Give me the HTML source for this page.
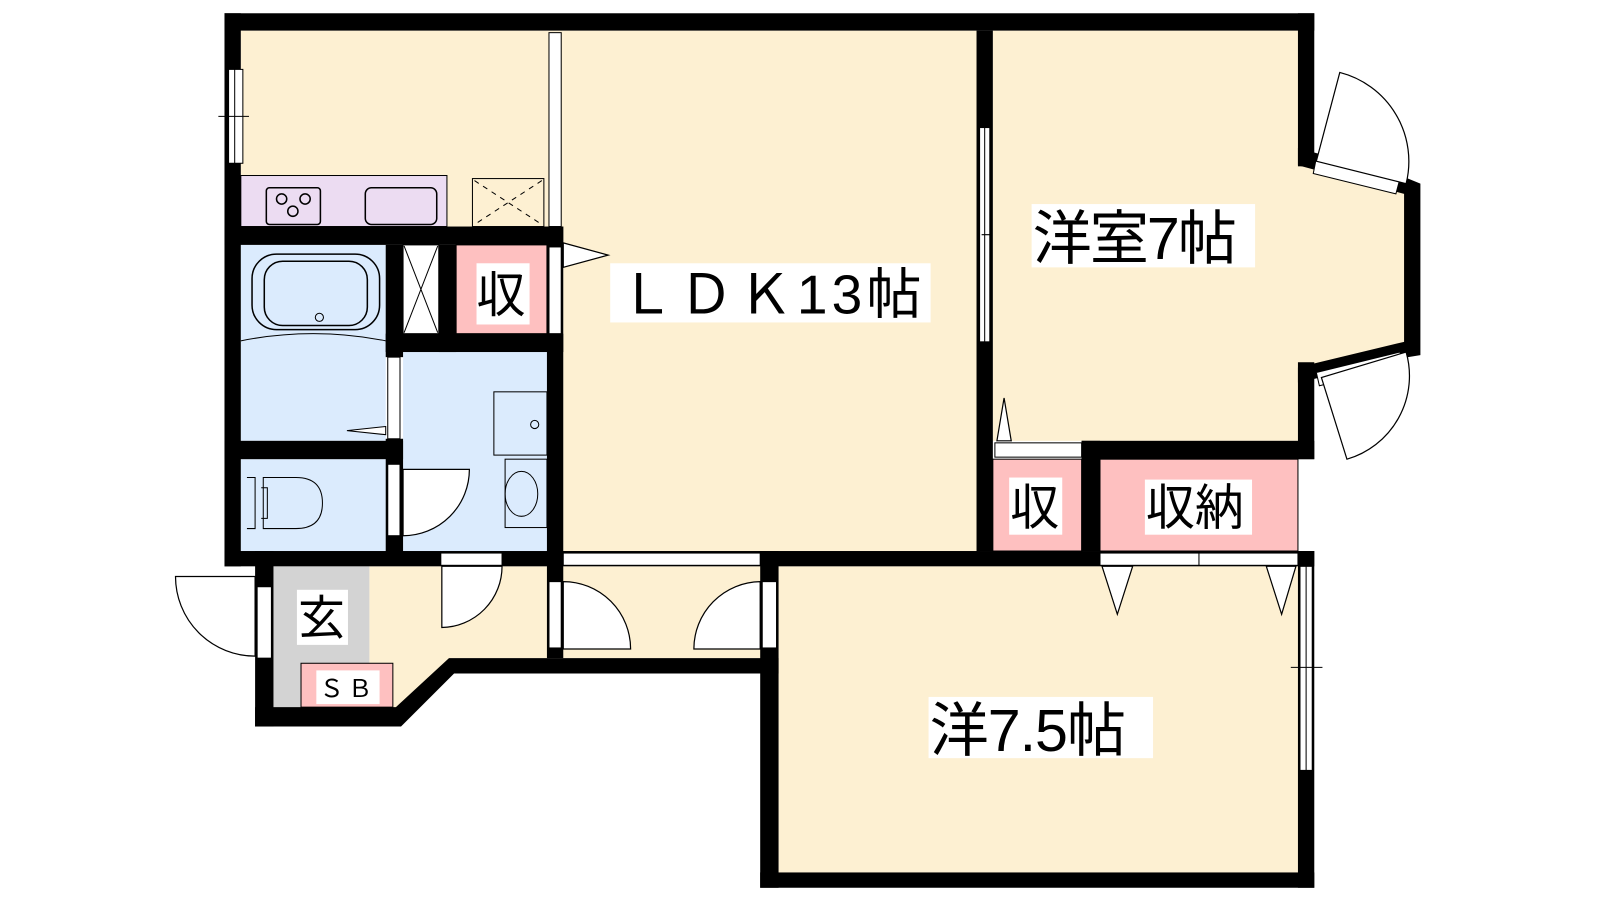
<!DOCTYPE html>
<html><head><meta charset="utf-8"><style>
html,body{margin:0;padding:0;background:#fff;width:1600px;height:900px;overflow:hidden}
svg{display:block}
text{font-family:"Liberation Sans","Noto Sans CJK JP",sans-serif;fill:#000}
</style></head><body>
<svg width="1600" height="900" viewBox="0 0 1600 900">
<g transform="scale(1.0204)">
<!-- floors -->
<g fill="#fdf0d2">
<rect x="236" y="30" width="316" height="192"/>
<rect x="552" y="30" width="405" height="510"/>
<polygon points="973,30 1272,30 1272,160 1380,185 1380,345 1272,365 1272,432 973,432"/>
<rect x="763" y="555" width="509" height="300"/>
<polygon points="362,555 748,555 748,645 440,645 388,700 362,700"/>
</g>
<g fill="#dbebfd">
<rect x="236" y="240" width="142" height="192"/>
<rect x="395" y="345" width="141" height="195"/>
<rect x="236" y="450" width="142" height="90"/>
</g>
<rect x="268" y="555" width="94" height="138" fill="#d3d3d3"/>
<g fill="#fec0c0" stroke="#000" stroke-width="1">
<rect x="447" y="240" width="89" height="87"/>
<rect x="973" y="450" width="87" height="90"/>
<rect x="1078" y="450" width="194" height="90"/>
<rect x="295" y="650" width="90" height="43"/>
</g>
<!-- kitchen -->
<rect x="236" y="172" width="202" height="50" fill="#ecdcf2" stroke="#000"/>
<rect x="261" y="184" width="53" height="36" rx="3" fill="none" stroke="#000" stroke-width="1.5"/>
<g fill="none" stroke="#000" stroke-width="1.5"><circle cx="276" cy="195" r="5"/><circle cx="299" cy="195" r="5"/><circle cx="287" cy="207" r="5"/></g>
<rect x="358" y="184" width="70" height="36" rx="6" fill="none" stroke="#000" stroke-width="1.5"/>
<rect x="463" y="175" width="70" height="47" fill="none" stroke="#000"/>
<path d="M465,177 L531,220 M531,177 L465,220" stroke="#000" stroke-dasharray="5,5"/>
<!-- bath -->
<rect x="247" y="249" width="125" height="74" rx="24" fill="none" stroke="#000" stroke-width="1.5"/>
<rect x="259" y="256" width="101" height="63" rx="18" fill="none" stroke="#000" stroke-width="1.5"/>
<circle cx="313" cy="311" r="4" fill="none" stroke="#000"/>
<path d="M236,334 Q307,320 378,334" fill="none" stroke="#000"/>
<polygon points="378,418 340,422 378,426" fill="#fff" stroke="#000"/>
<!-- closet X -->
<rect x="395" y="240" width="35" height="87" fill="#fff" stroke="#000"/>
<path d="M396,241 L429,326 M429,241 L396,326" stroke="#000"/>
<!-- washroom -->
<rect x="484" y="384" width="52" height="62" fill="none" stroke="#000"/>
<circle cx="524" cy="416" r="4" fill="none" stroke="#000"/>
<rect x="495" y="450" width="41" height="67" fill="none" stroke="#000"/>
<ellipse cx="511" cy="484" rx="16" ry="22" fill="none" stroke="#000"/>
<!-- toilet -->
<path d="M258,468 L290,468 Q316,468 316,493 Q316,518 290,518 L258,518 Z" fill="none" stroke="#000"/>
<path d="M242,468 L250,468 L250,518 L242,518 M250,468 L250,518 M256,478 L262,478 L262,508 L256,508" fill="none" stroke="#000"/>
<!-- walls -->
<g fill="#000">
<rect x="220" y="13" width="1068" height="17"/>
<rect x="220" y="13" width="16" height="542"/>
<rect x="220" y="222" width="332" height="18"/>
<rect x="378" y="240" width="17" height="110"/>
<rect x="378" y="430" width="17" height="120"/>
<rect x="430" y="240" width="17" height="105"/>
<rect x="378" y="327" width="174" height="18"/>
<rect x="220" y="432" width="175" height="18"/>
<rect x="536" y="222" width="16" height="423"/>
<rect x="220" y="540" width="1068" height="15"/>
<rect x="250" y="540" width="18" height="172"/>
<polygon points="250,693 388,693 440,645 763,645 763,660 445,660 393,712 250,712"/>
<rect x="745" y="540" width="18" height="330"/>
<rect x="745" y="855" width="543" height="15"/>
<rect x="1272" y="540" width="16" height="330"/>
<rect x="957" y="30" width="16" height="510"/>
<rect x="1060" y="432" width="228" height="18"/>
<rect x="1060" y="432" width="18" height="108"/>
<rect x="1272" y="13" width="16" height="150"/>
<rect x="1272" y="355" width="16" height="95"/>
<polygon points="1272,145 1380,175 1392,180 1392,348 1380,350 1272,375 1272,360 1376,335 1376,190 1272,162"/>
</g>
<!-- white openings / windows -->
<g fill="#fff" stroke="#000" stroke-width="1">
<rect x="224" y="68" width="14" height="92"/>
<rect x="538" y="32" width="12" height="190"/>
<rect x="538" y="242" width="12" height="85"/>
<rect x="960" y="125" width="10" height="210"/>
<rect x="380" y="350" width="12" height="80"/>
<rect x="380" y="455" width="12" height="70"/>
<rect x="432" y="542" width="60" height="12"/>
<rect x="552" y="542" width="193" height="12"/>
<rect x="252" y="575" width="14" height="70"/>
<rect x="538" y="570" width="12" height="65"/>
<rect x="747" y="570" width="14" height="65"/>
<rect x="975" y="434" width="85" height="14"/>
<rect x="1078" y="542" width="97" height="12"/>
<rect x="1175" y="542" width="97" height="12"/>
<rect x="1274" y="555" width="12" height="200"/>
<polygon points="1290,155 1372,175 1368,190 1287,170"/>
<polygon points="1290,365 1372,345 1375,358 1293,378"/>
</g>
<path d="M230,68 V160 M214,114 H244 M1280,555 V755 M1265,654 H1296 M965,125 V335 M962,230 H970" stroke="#000" fill="none"/>
<!-- door swings -->
<g fill="#fff" stroke="#000" stroke-width="1.2">
<path d="M395,460 L460,460 A65,65 0 0 1 395,525 Z"/>
<path d="M433,555 L492,555 A60,60 0 0 1 433,615 Z"/>
<path d="M250,565 L172,565 A78,78 0 0 0 250,643 Z"/>
<path d="M552,570 A66,66 0 0 1 618,636 L552,636 Z"/>
<path d="M745,570 A66,66 0 0 0 680,636 L745,636 Z"/>
<path d="M1290,158 L1313,71 A90,90 0 0 1 1378,180 Z"/>
<path d="M1295,370 L1320,450 A85,85 0 0 0 1378,345 Z"/>
<polygon points="552,238 596,250 552,262"/>
<polygon points="977,432 984,390 991,432"/>
<polygon points="1080,555 1095,602 1110,555"/>
<polygon points="1241,555 1256,602 1270,555"/>
</g>
<!-- labels -->
<rect x="598" y="258" width="314" height="58" fill="#fff"/>
<text x="607" y="307" font-size="54" letter-spacing="4">ＬＤＫ13帖</text>
<rect x="1011" y="200" width="219" height="62" fill="#fff"/>
<text x="1012" y="254" font-size="58" letter-spacing="-2">洋室7帖</text>
<rect x="910" y="683" width="220" height="60" fill="#fff"/>
<text x="911" y="736" font-size="58" letter-spacing="-1">洋7.5帖</text>
<rect x="467" y="258" width="52" height="60" fill="#fff"/>
<text x="467" y="306" font-size="48">収</text>
<rect x="989" y="468" width="52" height="56" fill="#fff"/>
<text x="990" y="514" font-size="48">収</text>
<rect x="1122" y="470" width="105" height="54" fill="#fff"/>
<text x="1123" y="514" font-size="48">収納</text>
<rect x="291" y="578" width="50" height="54" fill="#fff"/>
<text x="292" y="622" font-size="46">玄</text>
<rect x="310" y="657" width="62" height="33" fill="#fff"/>
<text x="313" y="683" font-size="24" letter-spacing="4">ＳＢ</text>
</g>
</svg>
</body></html>
